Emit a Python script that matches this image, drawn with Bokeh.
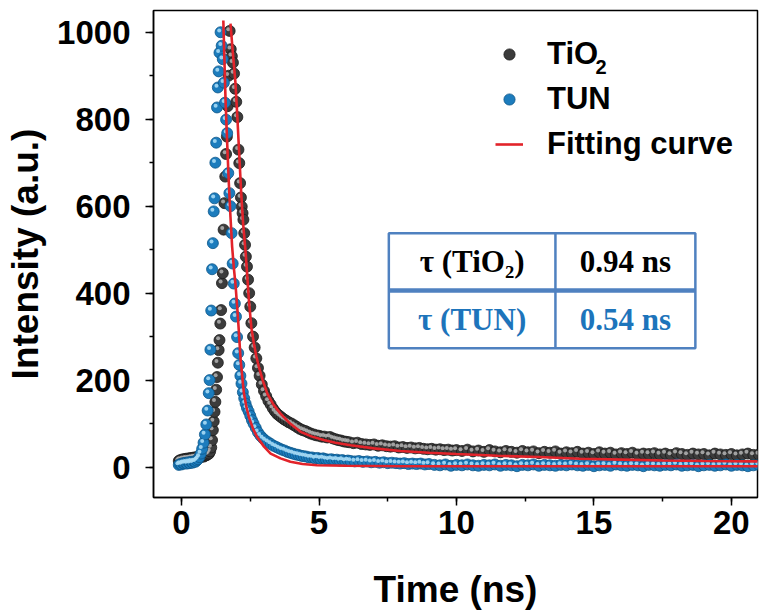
from bokeh.plotting import figure
from bokeh.models import (Range1d, SingleIntervalTicker, Legend, LegendItem,
                          ColumnDataSource, BoxAnnotation, Label)
from bokeh.transform import dodge
from bokeh.core.properties import value
from bokeh.embed import file_html
from bokeh.resources import INLINE

# ---------------- data ----------------
tio2_time = [-0.10, -0.05, 0.00, 0.05, 0.10, 0.15, 0.20, 0.25, 0.30, 0.35,
             0.40, 0.45, 0.50, 0.55, 0.60, 0.65, 0.70, 0.75, 0.80, 0.85,
             0.90, 0.95, 1.00, 1.04, 1.08, 1.11, 1.14, 1.17, 1.20, 1.23,
             1.26, 1.29, 1.32, 1.35, 1.38, 1.41, 1.44, 1.47, 1.50, 1.53,
             1.56, 1.59, 1.62, 1.65, 1.68, 1.71, 1.75,
             1.79, 1.83, 1.87, 1.91, 1.95, 1.99, 2.03, 2.07, 2.10, 2.13,
             2.16, 2.19, 2.22, 2.25, 2.28, 2.31, 2.34, 2.38, 2.42, 2.46,
             2.50, 2.54,
             2.60, 2.66, 2.72, 2.78, 2.84, 2.92, 3.00, 3.08, 3.16, 3.24,
             3.32, 3.40, 3.48, 3.56, 3.64, 3.72, 3.80, 3.90, 4.00,
             4.10, 4.20, 4.30, 4.40, 4.50, 4.60, 4.70, 4.80, 4.90, 5.00,
             5.10, 5.20, 5.30, 5.40, 5.50, 5.60, 5.70, 5.80, 5.90, 6.00, 6.10,
             6.25, 6.40, 6.55, 6.70, 6.85, 7.00, 7.15, 7.30, 7.45, 7.60,
             7.75, 7.90, 8.05, 8.20, 8.35, 8.50, 8.65, 8.80, 8.95, 9.10,
             9.25, 9.40, 9.55, 9.70, 9.85, 10.00,
             10.2, 10.4, 10.6, 10.8, 11.0,
             11.2, 11.4, 11.6, 11.8, 12.0, 12.2, 12.4, 12.6, 12.8, 13.0,
             13.2, 13.4, 13.6, 13.8, 14.0, 14.2, 14.4, 14.6, 14.8, 15.0,
             15.2, 15.4, 15.6, 15.8, 16.0, 16.2, 16.4, 16.6, 16.8, 17.0,
             17.2, 17.4, 17.6, 17.8, 18.0, 18.2, 18.4, 18.6, 18.8, 19.0,
             19.2, 19.4, 19.6, 19.8, 20.0, 20.2, 20.4, 20.6, 20.8, 21.0]
tio2_intensity = [14, 16, 15, 18, 17, 19, 18, 20, 19, 21,
                  20, 22, 21, 23, 22, 24, 23, 25, 24, 26,
                  27, 29, 31, 36, 45, 62, 85, 105, 127, 150,
                  178, 207, 240, 269, 292, 330, 361, 423, 446, 546,
                  607, 668, 720, 760, 830, 900, 1003,
                  961, 945, 930, 905, 870, 840, 805, 730, 699, 653,
                  620, 599, 584, 569, 538, 511, 484, 461, 431, 400,
                  369, 331,
                  300, 275, 250, 228, 210, 190, 175, 163, 152, 144,
                  135, 128, 122, 118, 114, 110, 107, 103, 100,
                  96, 92, 88, 85, 83, 80, 77, 75, 73, 72,
                  70, 70, 68, 69, 66, 64, 62, 61, 59, 58, 57,
                  55, 56, 53, 52, 51, 52, 49, 50, 48, 47,
                  48, 45, 46, 44, 45, 43, 44, 42, 41, 42,
                  40, 41, 39, 40, 38, 39,
                  37, 40, 36, 38, 35,
                  39, 36, 34, 37, 35, 33, 37, 34, 36, 32,
                  35, 33, 36, 31, 34, 32, 35, 31, 33, 30,
                  34, 31, 33, 29, 32, 30, 33, 29, 31, 30,
                  32, 29, 31, 28, 32, 30, 28, 31, 29, 30,
                  27, 31, 29, 28, 30, 27, 29, 31, 28, 29]

tun_time = [-0.10, -0.05, 0.00, 0.05, 0.10, 0.15, 0.20, 0.25, 0.30, 0.35,
            0.40, 0.45, 0.50, 0.55,
            0.60, 0.65, 0.70, 0.75, 0.80, 0.85, 0.90, 0.95,
            0.99, 1.02, 1.05, 1.08, 1.11, 1.14, 1.17, 1.20, 1.23, 1.26,
            1.29, 1.32, 1.35, 1.38, 1.42,
            1.46, 1.50, 1.54, 1.58, 1.62, 1.66, 1.70, 1.74, 1.78, 1.82,
            1.86, 1.90, 1.94, 1.98, 2.02, 2.06, 2.10, 2.14, 2.18,
            2.23, 2.28, 2.33, 2.38, 2.44, 2.50, 2.56, 2.62, 2.70, 2.78,
            2.87, 2.96,
            3.05, 3.15, 3.25, 3.35, 3.45, 3.55, 3.65, 3.75, 3.85, 3.95,
            4.05, 4.15, 4.25, 4.35, 4.45, 4.55, 4.65, 4.75, 4.85, 4.95,
            5.05, 5.15, 5.25, 5.35, 5.45, 5.55, 5.65, 5.75, 5.85, 5.95,
            6.05, 6.15,
            6.30, 6.45, 6.60, 6.75, 6.90, 7.05, 7.20, 7.35, 7.50, 7.65,
            7.80, 7.95, 8.10, 8.25, 8.40, 8.55, 8.70, 8.85, 9.00,
            9.2, 9.4, 9.6, 9.8, 10.0, 10.2, 10.4, 10.6, 10.8, 11.0,
            11.2, 11.4, 11.6, 11.8, 12.0, 12.2, 12.4, 12.6, 12.8, 13.0,
            13.2, 13.4, 13.6, 13.8, 14.0, 14.2, 14.4, 14.6, 14.8, 15.0,
            15.2, 15.4, 15.6, 15.8, 16.0, 16.2, 16.4, 16.6, 16.8, 17.0,
            17.2, 17.4, 17.6, 17.8, 18.0, 18.2, 18.4, 18.6, 18.8, 19.0,
            19.2, 19.4, 19.6, 19.8, 20.0, 20.2, 20.4, 20.6, 20.8, 21.0]
tun_intensity = [5, 7, 6, 9, 8, 10, 8, 11, 9, 12,
                 10, 13, 12, 15,
                 18, 23, 31, 42, 56, 75, 98, 130,
                 170, 200, 270, 360, 455, 515, 588, 618, 700, 746,
                 827, 873, 910, 953, 1000,
                 969, 938, 884, 838, 799, 768, 676, 630, 600, 538,
                 468, 422, 376, 346, 299, 262, 235, 210, 192,
                 172, 158, 146, 136, 128, 118, 108, 100, 90, 80,
                 72, 66,
                 61, 57, 53, 49, 46, 43, 40, 38, 35, 33,
                 31, 29, 28, 26, 25, 24, 22, 22, 20, 21,
                 19, 20, 18, 17, 18, 16, 17, 15, 16, 14,
                 15, 14,
                 13, 14, 12, 13, 11, 12, 10, 11, 9, 10,
                 9, 8, 9, 7, 8, 7, 8, 6, 7,
                 5, 4, 6, 3, 5, 4, 6, 4, 3, 5,
                 4, 6, 3, 5, 4, 2, 5, 4, 6, 3,
                 5, 4, 3, 5, 4, 6, 4, 3, 5, 2,
                 4, 5, 3, 6, 4, 3, 5, 4, 2, 5,
                 4, 3, 5, 4, 6, 3, 4, 5, 2, 4,
                 5, 3, 4, 6, 3, 5, 4, 2, 4, 5]

tio2_fit_time = [1.78, 1.87, 1.96, 2.03, 2.09, 2.17, 2.24, 2.33, 2.45, 2.54,
                 2.63, 2.72, 2.81, 2.95, 3.12, 3.35, 3.60, 3.95, 4.33, 4.75,
                 5.17, 5.60, 6.15, 7.00, 7.96, 9.00, 10.0, 11.5, 13.0, 14.5,
                 16.0, 17.5, 19.0, 21.0]
tio2_fit = [1020, 950, 884, 805, 730, 630, 560, 495, 384, 320,
            285, 255, 231, 200, 169, 143, 123, 100, 81, 70,
            62, 56, 50, 43, 37, 33, 30, 26, 23, 19,
            17, 15, 14, 13]

tun_fit_time = [1.52, 1.56, 1.60, 1.66, 1.72, 1.78, 1.84, 1.90, 1.96, 2.05,
                2.15, 2.27, 2.36, 2.45, 2.60, 2.75, 3.00, 3.24, 3.60, 3.96,
                4.40, 4.93, 6.0, 8.0, 12.0, 21.0]
tun_fit = [1027, 935, 845, 745, 653, 575, 507, 460, 422, 346,
           246, 169, 138, 115, 88, 69, 47, 31, 20, 12,
           7, 4, 3, 2, 2, 2]

legend_labels = ["TiO", "TUN", "Fitting curve"]
legend_subscript = "2"
table_names = ["\u03c4 (TiO\u2082)", "\u03c4 (TUN)"]
table_values = ["0.94 ns", "0.54 ns"]

# ---------------- styles ----------------
GRAY, GRAY_EDGE, GRAY_HI = "#3c3c3c", "#1a1a1a", "#b4b4b4"
BLUE, BLUE_EDGE, BLUE_HI = "#1c7cbd", "#0d5588", "#a8dcf5"
RED = "#e2232a"
TBL = "#4f81c0"
TXT_BLUE = "#1d74bb"
SANS = "Liberation Sans"
SERIF = "Liberation Serif"

p = figure(width=761, height=615, output_backend="svg", toolbar_location=None,
           x_range=Range1d(-1.02, 20.95), y_range=Range1d(-70, 1050),
           min_border_left=153, min_border_right=4, min_border_top=10,
           min_border_bottom=118)
p.grid.visible = False
p.outline_line_color = "black"
p.outline_line_width = 1.5
p.background_fill_color = "white"
p.border_fill_color = "white"

src_tio2 = ColumnDataSource(dict(t=tio2_time, v=tio2_intensity))
src_tun = ColumnDataSource(dict(t=tun_time, v=tun_intensity))

tio2_r = p.scatter("t", "v", source=src_tio2, size=11, fill_color=GRAY,
                   line_color=GRAY_EDGE, line_width=0.8)
p.scatter(dodge("t", -0.05), dodge("v", 4), source=src_tio2, size=4,
          fill_color=GRAY_HI, line_color=None, fill_alpha=0.85)
tun_r = p.scatter("t", "v", source=src_tun, size=11, fill_color=BLUE,
                  line_color=BLUE_EDGE, line_width=0.8)
p.scatter(dodge("t", -0.05), dodge("v", 4), source=src_tun, size=4,
          fill_color=BLUE_HI, line_color=None, fill_alpha=0.9)

fit_r = p.line(tio2_fit_time, tio2_fit, line_color=RED, line_width=2.6)
p.line(tun_fit_time, tun_fit, line_color=RED, line_width=2.6)

# ---------------- axes ----------------
p.xaxis.ticker = SingleIntervalTicker(interval=5, num_minor_ticks=2)
p.yaxis.ticker = SingleIntervalTicker(interval=200, num_minor_ticks=2)
p.xaxis.axis_label = "Time (ns)"
p.yaxis.axis_label = "Intensity (a.u.)"
for ax in (p.xaxis[0], p.yaxis[0]):
    ax.major_tick_out = 8
    ax.major_tick_in = 0
    ax.minor_tick_out = 4
    ax.minor_tick_in = 0
    ax.axis_line_width = 1.5
    ax.major_tick_line_width = 1.5
    ax.minor_tick_line_width = 1.5
    ax.axis_line_color = "black"
    ax.major_label_text_font = SANS
    ax.major_label_text_font_style = "bold"
    ax.major_label_text_font_size = "33px"
    ax.major_label_text_color = "black"
    ax.axis_label_text_font = SANS
    ax.axis_label_text_font_style = "bold"
    ax.axis_label_text_font_size = "37px"
    ax.axis_label_text_color = "black"
p.xaxis.major_label_standoff = 5
p.xaxis.axis_label_standoff = 32
p.yaxis.major_label_standoff = 15
p.yaxis.axis_label_standoff = 8

# ---------------- legend ----------------
legend = Legend(items=[LegendItem(label=legend_labels[0], renderers=[tio2_r]),
                       LegendItem(label=legend_labels[1], renderers=[tun_r]),
                       LegendItem(label=legend_labels[2], renderers=[fit_r])],
                location=(342, 335), orientation="vertical",
                glyph_width=28, glyph_height=36, label_height=36,
                label_standoff=24, spacing=9, padding=0, margin=0,
                background_fill_alpha=0, border_line_alpha=0,
                label_text_font=SANS, label_text_font_style="bold",
                label_text_font_size="31px", label_text_color="black")
p.add_layout(legend)
p.add_layout(Label(x=442, y=431, x_units="screen", y_units="screen",
                   text=legend_subscript, text_font=SANS, text_font_style="bold",
                   text_font_size="20px", text_color="black",
                   text_baseline="alphabetic", text_align="left"))

# ---------------- table ----------------
t_left, t_mid, t_right = 7.54, 13.6, 18.69
t_bottom, t_split, t_top = 273, 406, 538
p.add_layout(BoxAnnotation(left=t_left, right=t_right, bottom=t_bottom, top=t_top,
                           fill_alpha=0, line_color=TBL, line_width=2.5, line_alpha=1))
p.segment(x0=[t_mid], y0=[t_bottom], x1=[t_mid], y1=[t_top],
          line_color=TBL, line_width=2.5)
p.segment(x0=[t_left], y0=[t_split], x1=[t_right], y1=[t_split],
          line_color=TBL, line_width=4.5)
col1 = (t_left + t_mid) / 2
col2 = (t_mid + t_right) / 2
row1 = (t_split + t_top) / 2
row2 = (t_bottom + t_split) / 2
p.text(x=[col1, col2, col1, col2], y=[row1, row1, row2, row2],
       text=[table_names[0], table_values[0], table_names[1], table_values[1]],
       text_color=["black", "black", TXT_BLUE, TXT_BLUE],
       text_font=value(SERIF), text_font_style="bold", text_font_size="31px",
       text_align="center", text_baseline="middle")

open("out.html", "w").write(file_html(p, INLINE))
